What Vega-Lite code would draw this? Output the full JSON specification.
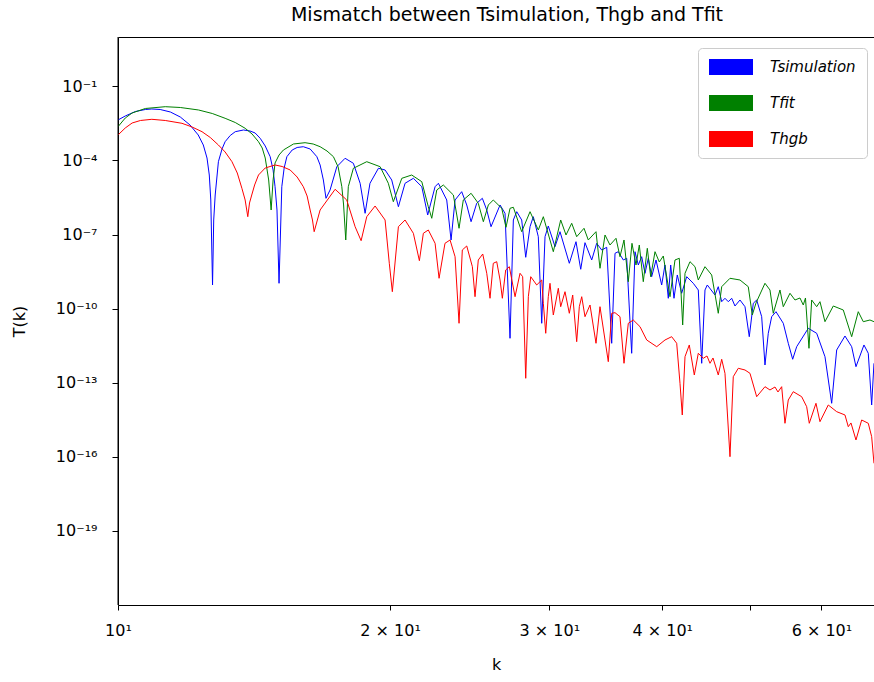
{
"$schema":"https://vega.github.io/schema/vega-lite/v6.json",
"width":756,"height":568,
"autosize":{"type":"none"},
"padding":{"left":118,"top":37,"right":0,"bottom":77},
"background":"white",
"title":{"text":"Mismatch between Tsimulation, Thgb and Tfit","fontSize":19,"font":"DejaVu Sans","fontWeight":"normal","color":"black","anchor":"middle","offset":12,"dx":11},
"resolve":{"axis":{"x":"independent"}},
"layer":[
{"data":{"values":[
{"series":"Tsimulation","k":10.0,"T":4.36e-3},{"series":"Tsimulation","k":10.187,"T":6.33e-3},{"series":"Tsimulation","k":10.454,"T":9.63e-3},{"series":"Tsimulation","k":10.722,"T":1.160e-2},{"series":"Tsimulation","k":10.90,"T":1.215e-2},{"series":"Tsimulation","k":11.134,"T":1.160e-2},{"series":"Tsimulation","k":11.427,"T":9.19e-3},{"series":"Tsimulation","k":11.720,"T":5.76e-3},{"series":"Tsimulation","k":12.013,"T":2.73e-3},{"series":"Tsimulation","k":12.268,"T":1.076e-3},{"series":"Tsimulation","k":12.427,"T":4.24e-4},{"series":"Tsimulation","k":12.545,"T":1.26e-4},{"series":"Tsimulation","k":12.618,"T":2.58e-5},{"series":"Tsimulation","k":12.666,"T":2.51e-6},{"series":"Tsimulation","k":12.723,"T":9.08e-10},{"series":"Tsimulation","k":12.761,"T":3.89e-7},{"series":"Tsimulation","k":12.809,"T":4.00e-6},{"series":"Tsimulation","k":12.914,"T":8.93e-5},{"series":"Tsimulation","k":13.034,"T":2.92e-4},{"series":"Tsimulation","k":13.137,"T":5.76e-4},{"series":"Tsimulation","k":13.309,"T":1.027e-3},{"series":"Tsimulation","k":13.481,"T":1.464e-3},{"series":"Tsimulation","k":13.766,"T":1.716e-3},{"series":"Tsimulation","k":13.997,"T":1.563e-3},{"series":"Tsimulation","k":14.181,"T":1.297e-3},{"series":"Tsimulation","k":14.365,"T":7.91e-4},{"series":"Tsimulation","k":14.550,"T":3.86e-4},{"series":"Tsimulation","k":14.735,"T":1.423e-4},{"series":"Tsimulation","k":14.845,"T":4.12e-5},{"series":"Tsimulation","k":14.919,"T":8.68e-6},{"series":"Tsimulation","k":14.993,"T":9.89e-7},{"series":"Tsimulation","k":15.071,"T":1.064e-9},{"series":"Tsimulation","k":15.178,"T":8.68e-6},{"series":"Tsimulation","k":15.269,"T":4.96e-5},{"series":"Tsimulation","k":15.375,"T":1.423e-4},{"series":"Tsimulation","k":15.585,"T":2.66e-4},{"series":"Tsimulation","k":15.782,"T":3.36e-4},{"series":"Tsimulation","k":16.033,"T":3.61e-4},{"series":"Tsimulation","k":16.314,"T":2.92e-4},{"series":"Tsimulation","k":16.596,"T":1.423e-4},{"series":"Tsimulation","k":16.734,"T":6.57e-5},{"series":"Tsimulation","k":16.873,"T":1.621e-5},{"series":"Tsimulation","k":16.986,"T":2.94e-6},{"series":"Tsimulation","k":17.164,"T":6.38e-6},{"series":"Tsimulation","k":17.462,"T":5.60e-5},{"series":"Tsimulation","k":17.832,"T":1.226e-4},{"series":"Tsimulation","k":18.213,"T":7.69e-5},{"series":"Tsimulation","k":18.529,"T":1.192e-5},{"series":"Tsimulation","k":18.765,"T":7.27e-7},{"series":"Tsimulation","k":19.000,"T":1.192e-5},{"series":"Tsimulation","k":19.413,"T":4.83e-5},{"series":"Tsimulation","k":19.745,"T":4.12e-5},{"series":"Tsimulation","k":20.082,"T":1.621e-5},{"series":"Tsimulation","k":20.426,"T":1.345e-6},{"series":"Tsimulation","k":20.776,"T":1.192e-5},{"series":"Tsimulation","k":21.220,"T":1.898e-5},{"series":"Tsimulation","k":21.680,"T":8.68e-6},{"series":"Tsimulation","k":22.009,"T":6.20e-7},{"series":"Tsimulation","k":22.427,"T":8.68e-6},{"series":"Tsimulation","k":22.616,"T":1.192e-5},{"series":"Tsimulation","k":23.102,"T":2.51e-6},{"series":"Tsimulation","k":23.359,"T":6.03e-8},{"series":"Tsimulation","k":23.598,"T":2.51e-6},{"series":"Tsimulation","k":24.0,"T":5.45e-6},{"series":"Tsimulation","k":24.311,"T":1.576e-6},{"series":"Tsimulation","k":24.580,"T":3.32e-7},{"series":"Tsimulation","k":24.935,"T":1.847e-6},{"series":"Tsimulation","k":25.296,"T":2.94e-6},{"series":"Tsimulation","k":25.582,"T":9.89e-7},{"series":"Tsimulation","k":25.861,"T":2.08e-7},{"series":"Tsimulation","k":26.463,"T":1.576e-6},{"series":"Tsimulation","k":26.801,"T":7.27e-7},{"series":"Tsimulation","k":27.144,"T":6.31e-12},{"series":"Tsimulation","k":27.375,"T":3.89e-7},{"series":"Tsimulation","k":27.613,"T":8.44e-7},{"series":"Tsimulation","k":27.963,"T":3.89e-7},{"series":"Tsimulation","k":28.252,"T":1.202e-8},{"series":"Tsimulation","k":28.564,"T":2.08e-7},{"series":"Tsimulation","k":28.803,"T":5.29e-7},{"series":"Tsimulation","k":29.172,"T":8.20e-8},{"series":"Tsimulation","k":29.427,"T":2.555e-11},{"series":"Tsimulation","k":29.675,"T":8.20e-8},{"series":"Tsimulation","k":29.923,"T":2.225e-7},{"series":"Tsimulation","k":30.441,"T":3.23e-8},{"series":"Tsimulation","k":30.830,"T":1.307e-7},{"series":"Tsimulation","k":31.570,"T":6.87e-9},{"series":"Tsimulation","k":32.111,"T":5.14e-8},{"series":"Tsimulation","k":32.500,"T":3.93e-9},{"series":"Tsimulation","k":32.856,"T":4.69e-8},{"series":"Tsimulation","k":33.423,"T":9.34e-9},{"series":"Tsimulation","k":33.850,"T":4.43e-8},{"series":"Tsimulation","k":34.285,"T":2.374e-8},{"series":"Tsimulation","k":34.724,"T":3.05e-8},{"series":"Tsimulation","k":35.168,"T":3.96e-12},{"series":"Tsimulation","k":35.467,"T":1.744e-8},{"series":"Tsimulation","k":35.765,"T":2.025e-8},{"series":"Tsimulation","k":36.223,"T":9.34e-9},{"series":"Tsimulation","k":36.540,"T":1.095e-8},{"series":"Tsimulation","k":37.005,"T":1.557e-12},{"series":"Tsimulation","k":37.320,"T":2.025e-8},{"series":"Tsimulation","k":37.635,"T":5.86e-9},{"series":"Tsimulation","k":37.960,"T":1.271e-8},{"series":"Tsimulation","k":38.282,"T":2.70e-9},{"series":"Tsimulation","k":38.606,"T":1.095e-8},{"series":"Tsimulation","k":38.939,"T":1.969e-9},{"series":"Tsimulation","k":39.370,"T":9.34e-9},{"series":"Tsimulation","k":39.944,"T":9.08e-10},{"series":"Tsimulation","k":40.282,"T":5.86e-9},{"series":"Tsimulation","k":40.623,"T":2.63e-10},{"series":"Tsimulation","k":40.870,"T":5.86e-9},{"series":"Tsimulation","k":41.216,"T":2.63e-10},{"series":"Tsimulation","k":41.564,"T":2.31e-9},{"series":"Tsimulation","k":42.030,"T":4.19e-10},{"series":"Tsimulation","k":42.572,"T":1.969e-9},{"series":"Tsimulation","k":43.293,"T":1.064e-9},{"series":"Tsimulation","k":43.847,"T":5.70e-10},{"series":"Tsimulation","k":44.229,"T":6.13e-13},{"series":"Tsimulation","k":44.603,"T":5.70e-10},{"series":"Tsimulation","k":44.864,"T":9.08e-10},{"series":"Tsimulation","k":45.753,"T":3.57e-10},{"series":"Tsimulation","k":46.138,"T":7.75e-10},{"series":"Tsimulation","k":46.541,"T":1.914e-10},{"series":"Tsimulation","k":46.931,"T":2.63e-10},{"series":"Tsimulation","k":47.329,"T":1.914e-10},{"series":"Tsimulation","k":47.741,"T":2.63e-10},{"series":"Tsimulation","k":48.143,"T":1.282e-10},{"series":"Tsimulation","k":48.760,"T":2.243e-10},{"series":"Tsimulation","k":49.386,"T":1.201e-10},{"series":"Tsimulation","k":49.928,"T":7.32e-12},{"series":"Tsimulation","k":50.441,"T":1.648e-10},{"series":"Tsimulation","k":50.879,"T":2.243e-10},{"series":"Tsimulation","k":51.532,"T":4.73e-11},{"series":"Tsimulation","k":51.965,"T":5.23e-13},{"series":"Tsimulation","k":52.405,"T":1.006e-11},{"series":"Tsimulation","k":52.860,"T":4.73e-11},{"series":"Tsimulation","k":53.443,"T":7.53e-11},{"series":"Tsimulation","k":54.447,"T":2.555e-11},{"series":"Tsimulation","k":55.143,"T":3.96e-12},{"series":"Tsimulation","k":55.765,"T":8.91e-13},{"series":"Tsimulation","k":56.337,"T":2.88e-12},{"series":"Tsimulation","k":58.024,"T":1.602e-11},{"series":"Tsimulation","k":59.280,"T":1.006e-11},{"series":"Tsimulation","k":60.547,"T":1.135e-12},{"series":"Tsimulation","k":61.589,"T":1.472e-14},{"series":"Tsimulation","k":62.379,"T":2.12e-12},{"series":"Tsimulation","k":63.711,"T":7.82e-12},{"series":"Tsimulation","k":64.808,"T":2.88e-12},{"series":"Tsimulation","k":65.522,"T":4.47e-13},{"series":"Tsimulation","k":66.869,"T":3.38e-12},{"series":"Tsimulation","k":67.607,"T":1.557e-12},{"series":"Tsimulation","k":68.194,"T":1.256e-14},{"series":"Tsimulation","k":68.595,"T":6.13e-13},
{"series":"Tfit","k":10.0,"T":2.33e-3},{"series":"Tfit","k":10.187,"T":5.25e-3},{"series":"Tfit","k":10.366,"T":8.37e-3},{"series":"Tfit","k":10.722,"T":1.274e-2},{"series":"Tfit","k":11.280,"T":1.506e-2},{"series":"Tfit","k":11.720,"T":1.398e-2},{"series":"Tfit","k":12.278,"T":1.107e-2},{"series":"Tfit","k":12.714,"T":7.99e-3},{"series":"Tfit","k":13.137,"T":5.11e-3},{"series":"Tfit","k":13.481,"T":3.45e-3},{"series":"Tfit","k":13.825,"T":2.01e-3},{"series":"Tfit","k":14.070,"T":1.181e-3},{"series":"Tfit","k":14.303,"T":5.76e-4},{"series":"Tfit","k":14.439,"T":3.20e-4},{"series":"Tfit","k":14.550,"T":1.26e-4},{"series":"Tfit","k":14.679,"T":1.621e-5},{"series":"Tfit","k":14.771,"T":9.89e-7},{"series":"Tfit","k":14.845,"T":1.621e-5},{"series":"Tfit","k":14.919,"T":7.91e-5},{"series":"Tfit","k":15.071,"T":1.668e-4},{"series":"Tfit","k":15.241,"T":2.66e-4},{"series":"Tfit","k":15.636,"T":4.65e-4},{"series":"Tfit","k":16.104,"T":5.25e-4},{"series":"Tfit","k":16.440,"T":4.65e-4},{"series":"Tfit","k":16.734,"T":3.61e-4},{"series":"Tfit","k":17.030,"T":2.42e-4},{"series":"Tfit","k":17.311,"T":1.423e-4},{"series":"Tfit","k":17.520,"T":5.45e-5},{"series":"Tfit","k":17.685,"T":8.68e-6},{"series":"Tfit","k":17.765,"T":1.576e-6},{"series":"Tfit","k":17.863,"T":6.03e-8},{"series":"Tfit","k":17.979,"T":8.68e-6},{"series":"Tfit","k":18.213,"T":4.83e-5},{"series":"Tfit","k":18.845,"T":8.93e-5},{"series":"Tfit","k":19.497,"T":5.60e-5},{"series":"Tfit","k":19.909,"T":1.192e-5},{"series":"Tfit","k":20.165,"T":2.14e-6},{"series":"Tfit","k":20.604,"T":1.898e-5},{"series":"Tfit","k":21.132,"T":2.58e-5},{"series":"Tfit","k":21.680,"T":1.384e-5},{"series":"Tfit","k":22.043,"T":1.345e-6},{"series":"Tfit","k":22.238,"T":4.56e-7},{"series":"Tfit","k":22.524,"T":6.38e-6},{"series":"Tfit","k":22.903,"T":1.017e-5},{"series":"Tfit","k":23.497,"T":4.00e-6},{"series":"Tfit","k":23.838,"T":1.795e-7},{"series":"Tfit","k":24.099,"T":2.51e-6},{"series":"Tfit","k":24.580,"T":4.69e-6},{"series":"Tfit","k":25.036,"T":1.847e-6},{"series":"Tfit","k":25.361,"T":3.32e-7},{"series":"Tfit","k":25.686,"T":1.576e-6},{"series":"Tfit","k":26.011,"T":2.51e-6},{"series":"Tfit","k":26.578,"T":1.158e-6},{"series":"Tfit","k":26.868,"T":1.970e-7},{"series":"Tfit","k":27.144,"T":1.158e-6},{"series":"Tfit","k":27.375,"T":1.272e-6},{"series":"Tfit","k":27.963,"T":1.307e-7},{"series":"Tfit","k":28.564,"T":8.44e-7},{"series":"Tfit","k":29.172,"T":1.532e-7},{"series":"Tfit","k":29.548,"T":5.29e-7},{"series":"Tfit","k":30.309,"T":2.025e-8},{"series":"Tfit","k":30.884,"T":3.89e-7},{"series":"Tfit","k":31.306,"T":9.61e-8},{"series":"Tfit","k":31.763,"T":2.86e-7},{"series":"Tfit","k":32.169,"T":8.20e-8},{"series":"Tfit","k":32.773,"T":1.795e-7},{"series":"Tfit","k":33.133,"T":6.03e-8},{"series":"Tfit","k":33.790,"T":1.307e-7},{"series":"Tfit","k":34.135,"T":4.31e-9},{"series":"Tfit","k":34.575,"T":9.61e-8},{"series":"Tfit","k":35.014,"T":3.78e-8},{"series":"Tfit","k":35.557,"T":7.07e-8},{"series":"Tfit","k":35.919,"T":1.271e-8},{"series":"Tfit","k":36.288,"T":6.03e-8},{"series":"Tfit","k":36.688,"T":1.235e-9},{"series":"Tfit","k":37.033,"T":4.43e-8},{"series":"Tfit","k":37.415,"T":5.86e-9},{"series":"Tfit","k":37.731,"T":3.78e-8},{"series":"Tfit","k":38.116,"T":1.235e-9},{"series":"Tfit","k":38.508,"T":2.78e-8},{"series":"Tfit","k":38.841,"T":1.969e-9},{"series":"Tfit","k":39.270,"T":2.025e-8},{"series":"Tfit","k":39.702,"T":7.75e-9},{"series":"Tfit","k":40.107,"T":1.357e-8},{"series":"Tfit","k":40.798,"T":3.05e-10},{"series":"Tfit","k":41.321,"T":9.34e-9},{"series":"Tfit","k":41.776,"T":1.095e-8},{"series":"Tfit","k":42.139,"T":2.18e-11},{"series":"Tfit","k":42.388,"T":2.70e-9},{"series":"Tfit","k":42.930,"T":7.97e-9},{"series":"Tfit","k":43.482,"T":5.00e-9},{"series":"Tfit","k":43.847,"T":1.447e-9},{"series":"Tfit","k":44.603,"T":5.00e-9},{"series":"Tfit","k":45.371,"T":2.31e-9},{"series":"Tfit","k":46.138,"T":6.49e-11},{"series":"Tfit","k":46.541,"T":7.75e-10},{"series":"Tfit","k":47.535,"T":1.696e-9},{"series":"Tfit","k":48.760,"T":1.447e-9},{"series":"Tfit","k":49.802,"T":7.75e-10},{"series":"Tfit","k":50.313,"T":5.54e-11},{"series":"Tfit","k":50.789,"T":1.696e-10},{"series":"Tfit","k":51.965,"T":1.064e-9},{"series":"Tfit","k":52.632,"T":5.70e-10},{"series":"Tfit","k":53.075,"T":6.49e-11},{"series":"Tfit","k":53.989,"T":5.70e-10},{"series":"Tfit","k":54.447,"T":1.201e-10},{"series":"Tfit","k":55.383,"T":4.19e-10},{"series":"Tfit","k":56.092,"T":2.243e-10},{"series":"Tfit","k":56.812,"T":2.70e-10},{"series":"Tfit","k":57.291,"T":1.406e-10},{"series":"Tfit","k":57.613,"T":2.70e-10},{"series":"Tfit","k":58.128,"T":2.48e-12},{"series":"Tfit","k":58.531,"T":2.243e-10},{"series":"Tfit","k":59.280,"T":1.201e-10},{"series":"Tfit","k":59.780,"T":1.914e-10},{"series":"Tfit","k":60.547,"T":2.97e-11},{"series":"Tfit","k":61.840,"T":1.282e-10},{"series":"Tfit","k":63.436,"T":8.83e-11},{"series":"Tfit","k":64.808,"T":7.32e-12},{"series":"Tfit","k":65.905,"T":7.53e-11},{"series":"Tfit","k":66.751,"T":2.97e-11},{"series":"Tfit","k":67.899,"T":3.47e-11},{"series":"Tfit","k":68.595,"T":2.97e-11},
{"series":"Thgb","k":10.0,"T":1.076e-3},{"series":"Thgb","k":10.187,"T":2.07e-3},{"series":"Thgb","k":10.366,"T":3.29e-3},{"series":"Thgb","k":10.588,"T":4.16e-3},{"series":"Thgb","k":10.90,"T":4.65e-3},{"series":"Thgb","k":11.280,"T":4.16e-3},{"series":"Thgb","k":11.769,"T":3.20e-3},{"series":"Thgb","k":12.077,"T":2.27e-3},{"series":"Thgb","k":12.386,"T":1.464e-3},{"series":"Thgb","k":12.650,"T":8.52e-4},{"series":"Thgb","k":12.914,"T":4.24e-4},{"series":"Thgb","k":13.137,"T":2.21e-4},{"series":"Thgb","k":13.368,"T":8.93e-5},{"series":"Thgb","k":13.550,"T":3.11e-5},{"series":"Thgb","k":13.711,"T":7.47e-6},{"series":"Thgb","k":13.825,"T":2.51e-6},{"series":"Thgb","k":13.918,"T":5.29e-7},{"series":"Thgb","k":13.979,"T":1.898e-6},{"series":"Thgb","k":14.059,"T":4.00e-6},{"series":"Thgb","k":14.162,"T":1.017e-5},{"series":"Thgb","k":14.303,"T":2.58e-5},{"series":"Thgb","k":14.550,"T":4.96e-5},{"series":"Thgb","k":14.919,"T":6.57e-5},{"series":"Thgb","k":15.190,"T":5.71e-5},{"series":"Thgb","k":15.506,"T":4.12e-5},{"series":"Thgb","k":15.782,"T":2.14e-5},{"series":"Thgb","k":16.033,"T":8.68e-6},{"series":"Thgb","k":16.188,"T":3.65e-6},{"series":"Thgb","k":16.314,"T":9.89e-7},{"series":"Thgb","k":16.411,"T":3.89e-7},{"series":"Thgb","k":16.482,"T":1.307e-7},{"series":"Thgb","k":16.734,"T":9.89e-7},{"series":"Thgb","k":17.386,"T":6.81e-6},{"series":"Thgb","k":17.908,"T":2.51e-6},{"series":"Thgb","k":18.294,"T":2.08e-7},{"series":"Thgb","k":18.576,"T":5.65e-8},{"series":"Thgb","k":18.845,"T":5.29e-7},{"series":"Thgb","k":19.249,"T":1.436e-6},{"series":"Thgb","k":19.745,"T":3.89e-7},{"series":"Thgb","k":19.959,"T":6.87e-9},{"series":"Thgb","k":20.113,"T":4.86e-10},{"series":"Thgb","k":20.426,"T":2.08e-7},{"series":"Thgb","k":20.776,"T":3.89e-7},{"series":"Thgb","k":21.220,"T":1.126e-7},{"series":"Thgb","k":21.548,"T":8.75e-9},{"series":"Thgb","k":21.767,"T":1.126e-7},{"series":"Thgb","k":22.043,"T":1.532e-7},{"series":"Thgb","k":22.427,"T":4.43e-8},{"series":"Thgb","k":22.656,"T":1.696e-9},{"series":"Thgb","k":23.0,"T":4.43e-8},{"series":"Thgb","k":23.299,"T":6.03e-8},{"series":"Thgb","k":23.598,"T":1.271e-8},{"series":"Thgb","k":23.838,"T":2.555e-11},{"series":"Thgb","k":24.037,"T":2.374e-8},{"series":"Thgb","k":24.311,"T":3.45e-8},{"series":"Thgb","k":24.661,"T":5.00e-9},{"series":"Thgb","k":24.829,"T":3.05e-10},{"series":"Thgb","k":25.036,"T":9.34e-9},{"series":"Thgb","k":25.322,"T":1.635e-8},{"series":"Thgb","k":25.582,"T":2.70e-9},{"series":"Thgb","k":25.796,"T":2.63e-10},{"series":"Thgb","k":26.011,"T":6.87e-9},{"series":"Thgb","k":26.240,"T":7.97e-9},{"series":"Thgb","k":26.463,"T":1.447e-9},{"series":"Thgb","k":26.619,"T":2.63e-10},{"series":"Thgb","k":26.848,"T":3.68e-9},{"series":"Thgb","k":27.095,"T":5.00e-9},{"series":"Thgb","k":27.494,"T":3.05e-10},{"series":"Thgb","k":27.844,"T":2.70e-9},{"series":"Thgb","k":28.034,"T":1.969e-9},{"series":"Thgb","k":28.252,"T":1.514e-13},{"series":"Thgb","k":28.440,"T":3.05e-10},{"series":"Thgb","k":28.615,"T":1.969e-9},{"series":"Thgb","k":29.052,"T":9.08e-10},{"series":"Thgb","k":29.427,"T":1.447e-9},{"series":"Thgb","k":29.548,"T":1.648e-10},{"series":"Thgb","k":29.728,"T":1.006e-11},{"series":"Thgb","k":29.923,"T":3.05e-10},{"series":"Thgb","k":30.053,"T":1.064e-9},{"series":"Thgb","k":30.309,"T":5.54e-11},{"series":"Thgb","k":30.698,"T":6.68e-10},{"series":"Thgb","k":30.884,"T":1.201e-10},{"series":"Thgb","k":31.225,"T":4.86e-10},{"series":"Thgb","k":31.570,"T":6.49e-11},{"series":"Thgb","k":31.843,"T":3.57e-10},{"series":"Thgb","k":32.169,"T":4.59e-12},{"series":"Thgb","k":32.384,"T":1.201e-10},{"series":"Thgb","k":32.583,"T":3.05e-10},{"series":"Thgb","k":32.856,"T":4.73e-11},{"series":"Thgb","k":33.278,"T":1.406e-10},{"series":"Thgb","k":33.790,"T":3.96e-12},{"series":"Thgb","k":34.135,"T":1.201e-10},{"series":"Thgb","k":34.865,"T":7.12e-13},{"series":"Thgb","k":35.168,"T":6.49e-11},{"series":"Thgb","k":35.467,"T":6.86e-11},{"series":"Thgb","k":35.919,"T":4.73e-11},{"series":"Thgb","k":36.288,"T":6.13e-13},{"series":"Thgb","k":36.688,"T":2.555e-11},{"series":"Thgb","k":37.158,"T":3.47e-11},{"series":"Thgb","k":37.798,"T":1.861e-11},{"series":"Thgb","k":38.449,"T":5.38e-12},{"series":"Thgb","k":39.441,"T":2.88e-12},{"series":"Thgb","k":40.282,"T":5.38e-12},{"series":"Thgb","k":40.973,"T":7.32e-12},{"series":"Thgb","k":41.501,"T":3.96e-12},{"series":"Thgb","k":41.850,"T":9.50e-14},{"series":"Thgb","k":42.095,"T":4.95e-15},{"series":"Thgb","k":42.388,"T":1.135e-12},{"series":"Thgb","k":42.854,"T":3.38e-12},{"series":"Thgb","k":43.404,"T":2.06e-13},{"series":"Thgb","k":43.847,"T":1.557e-12},{"series":"Thgb","k":44.410,"T":9.78e-13},{"series":"Thgb","k":44.830,"T":1.211e-12},{"series":"Thgb","k":45.174,"T":6.13e-13},{"series":"Thgb","k":45.521,"T":1.005e-12},{"series":"Thgb","k":46.138,"T":2.06e-13},{"series":"Thgb","k":46.541,"T":8.91e-13},{"series":"Thgb","k":46.931,"T":2.41e-13},{"series":"Thgb","k":47.535,"T":1.013e-16},{"series":"Thgb","k":47.935,"T":1.758e-13},{"series":"Thgb","k":48.551,"T":3.85e-13},{"series":"Thgb","k":49.386,"T":3.28e-13},{"series":"Thgb","k":50.017,"T":2.41e-13},{"series":"Thgb","k":50.879,"T":2.72e-14},{"series":"Thgb","k":51.965,"T":6.92e-14},{"series":"Thgb","k":52.632,"T":5.09e-14},{"series":"Thgb","k":53.307,"T":6.73e-14},{"series":"Thgb","k":53.716,"T":4.22e-14},{"series":"Thgb","k":54.225,"T":6.92e-14},{"series":"Thgb","k":54.682,"T":2.28e-15},{"series":"Thgb","k":55.143,"T":2.00e-14},{"series":"Thgb","k":55.850,"T":4.34e-14},{"series":"Thgb","k":57.057,"T":2.72e-14},{"series":"Thgb","k":57.789,"T":1.072e-14},{"series":"Thgb","k":58.173,"T":2.28e-15},{"series":"Thgb","k":59.174,"T":1.472e-14},{"series":"Thgb","k":59.780,"T":2.65e-15},{"series":"Thgb","k":61.056,"T":1.256e-14},{"series":"Thgb","k":62.379,"T":6.73e-15},{"series":"Thgb","k":63.711,"T":4.95e-15},{"series":"Thgb","k":64.248,"T":1.661e-15},{"series":"Thgb","k":64.692,"T":2.35e-15},{"series":"Thgb","k":65.522,"T":4.81e-16},{"series":"Thgb","k":66.480,"T":3.10e-15},{"series":"Thgb","k":67.607,"T":2.28e-15},{"series":"Thgb","k":68.194,"T":6.54e-16},{"series":"Thgb","k":68.595,"T":5.47e-17}
]},
"mark":{"type":"line","strokeWidth":1,"clip":true},
"encoding":{
"x":{"field":"k","type":"quantitative","scale":{"type":"log","domain":[10,68.6],"nice":false},
"axis":{"orient":"bottom","values":[10,20,30,40,50,60],"labelExpr":"datum.value < 15 ? '10¹' : datum.value < 25 ? '2 × 10¹' : datum.value < 35 ? '3 × 10¹' : datum.value < 45 ? '4 × 10¹' : datum.value < 55 ? '' : '6 × 10¹'","title":"k","labelFontSize":16,"titleFontSize":16,"labelFont":"DejaVu Sans","titleFont":"DejaVu Sans","titleFontWeight":"normal","labelColor":"black","titleColor":"black","tickColor":"black","domainColor":"black","tickSize":5,"labelPadding":12,"titlePadding":18,"grid":false,"labelFlush":false,"labelOverlap":false}},
"y":{"field":"T","type":"quantitative","scale":{"type":"log","domain":[1e-22,10],"nice":false},
"axis":{"values":[1e-19,1e-16,1e-13,1e-10,1e-7,1e-4,1e-1],"labelExpr":"datum.value < 1e-18 ? '10⁻¹⁹' : datum.value < 1e-15 ? '10⁻¹⁶' : datum.value < 1e-12 ? '10⁻¹³' : datum.value < 1e-9 ? '10⁻¹⁰' : datum.value < 1e-6 ? '10⁻⁷' : datum.value < 1e-3 ? '10⁻⁴' : '10⁻¹'","title":"T(k)","labelFontSize":16,"titleFontSize":16,"labelFont":"DejaVu Sans","titleFont":"DejaVu Sans","titleFontWeight":"normal","labelColor":"black","titleColor":"black","tickColor":"black","domainColor":"black","tickSize":6,"labelPadding":15,"titlePadding":28,"grid":false,"labelOverlap":false}},
"color":{"field":"series","type":"nominal","scale":{"domain":["Tsimulation","Tfit","Thgb"],"range":["#0000ff","#008000","#ff0000"]},
"legend":{"orient":"none","legendX":580,"legendY":11,"title":null,"fillColor":"white","strokeColor":"#cccccc","cornerRadius":4,"padding":11,"symbolType":"M-1,-1H4.5V1H-1Z","symbolSize":256,"symbolStrokeWidth":0,"symbolOpacity":1,"labelFont":"DejaVu Sans","labelFontSize":15,"labelFontStyle":"italic","labelColor":"black","labelOffset":45,"rowPadding":20,
"encode":{"symbols":{"update":{"fill":{"scale":"color","field":"value"},"stroke":{"value":"transparent"}}}}}}
}},
{"data":{"values":[{}]},
"mark":{"type":"rule","color":"black","strokeWidth":1},
"encoding":{"x":{"datum":10,"type":"quantitative","axis":{"orient":"top","labels":false,"ticks":false,"title":null,"domainColor":"black","grid":false}}}}
],
"config":{"view":{"stroke":null},"axis":{"grid":false}}
}
